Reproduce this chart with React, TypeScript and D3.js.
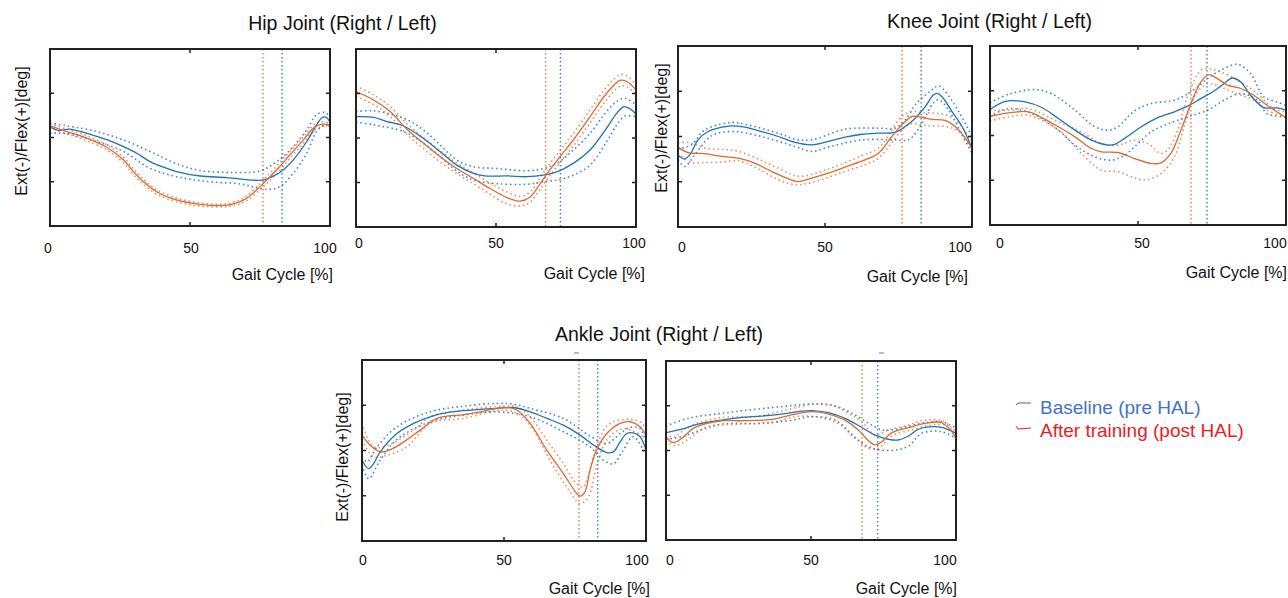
import React from "react";
import * as d3 from "d3";

type Pt = [number, number];

const gaitTicks = [0, 50, 100];
const angleTicks = [-20, 0, 20];
const angleDomain: [number, number] = [-40, 40];
const titles = ["Hip Joint (Right / Left)", "Knee Joint (Right / Left)", "Ankle Joint (Right / Left)"];
const legendLabels = ["Baseline (pre HAL)", "After training (post HAL)"];
const xLabel = "Gait Cycle [%]";
const yLabel = "Ext(-)/Flex(+)[deg]";

// ---------- Hip Right ----------
const hipRPre: Pt[] = [[0,4.7],[3,3.2],[7,3.8],[12,2.3],[16.7,0.5],[21.4,-1.5],[26.2,-4.1],[31,-7.1],[35.7,-10.9],[40.5,-13.4],[45.2,-15.4],[53.6,-17.4],[63.1,-18.1],[72.6,-19.3],[76.2,-19.2],[78.6,-18.1],[82.1,-15.8],[86.9,-10.1],[91.7,-1.8],[95.2,5.7],[97,8.8],[98.6,9.2],[100,6.8]];
const hipRPreHi: Pt[] = [[0,6.5],[6,5.3],[16.7,2.7],[26.2,-1.1],[35.7,-6.3],[45.2,-11.9],[53.6,-14.9],[65.5,-15.8],[75,-15.1],[81,-10.9],[86.9,-4.1],[91.7,3.5],[95.2,10.3],[98.2,11.3],[100,9.2]];
const hipRPreLo: Pt[] = [[0,2.0],[6,1.7],[16.7,-1.8],[26.2,-6.3],[35.7,-13.9],[45.2,-17.7],[56,-19.9],[67.9,-21.0],[77.4,-23.4],[82.1,-22.2],[86.9,-16.1],[91.7,-7.1],[95.2,2.7],[98.2,5.7],[100,5.0]];
const hipRPost: Pt[] = [[0,5.3],[6,2.7],[13.1,-0.3],[20.2,-4.4],[26.2,-10.1],[29.8,-15.4],[33.3,-19.9],[38.1,-24.5],[45.2,-28.2],[53.6,-30.2],[60.7,-30.8],[65.5,-30.0],[70.2,-27.5],[75,-22.2],[77.4,-19.2],[81,-14.6],[85.7,-7.8],[90.5,-1.1],[94,4.2],[97,6.0],[100,5.7]];
const hipRPostHi: Pt[] = [[0,6.0],[6,3.8],[13.1,0.8],[20.2,-3.3],[26.2,-8.8],[29.8,-14.2],[33.3,-18.8],[38.1,-23.6],[45.2,-27.4],[53.6,-29.5],[60.7,-30.2],[65.5,-29.2],[70.2,-26.4],[75,-20.8],[77.4,-17.6],[81,-12.8],[85.7,-6.2],[90.5,0.4],[94,5.5],[97,7.1],[100,6.4]];
const hipRPostLo: Pt[] = [[0,4.4],[6,1.6],[13.1,-1.5],[20.2,-5.6],[26.2,-11.4],[29.8,-16.7],[33.3,-21.1],[38.1,-25.5],[45.2,-29.0],[53.6,-31.0],[60.7,-31.4],[65.5,-30.8],[70.2,-28.6],[75,-23.6],[77.4,-20.8],[81,-16.4],[85.7,-9.4],[90.5,-2.6],[94,2.9],[97,5.0],[100,5.1]];

// ---------- Hip Left ----------
const hipLPre: Pt[] = [[0,9.6],[6.3,9.3],[11.1,7.4],[17,5.4],[24.1,-0.2],[30.1,-6.2],[36,-12.2],[42,-15.9],[46.7,-17.1],[53.9,-17.0],[61,-17.4],[66.9,-16.7],[71.7,-15.2],[77.6,-11.4],[83.6,-5.4],[89.5,4.4],[93.1,11.1],[95.7,14.1],[97.9,13.1],[100,10.8]];
const hipLPreHi: Pt[] = [[0,11.9],[6.3,12.2],[17,8.9],[24.1,3.6],[30.1,-3.2],[36,-9.9],[42,-12.9],[50.3,-13.7],[61,-14.7],[66.9,-13.7],[71.7,-11.4],[77.6,-5.4],[83.6,2.1],[89.5,11.9],[93.1,16.4],[96.1,17.9],[100,14.9]];
const hipLPreLo: Pt[] = [[0,7.1],[6.3,5.9],[17,2.9],[24.1,-2.4],[30.1,-8.4],[36,-14.9],[42,-18.9],[50.3,-20.5],[61,-20.8],[66.9,-19.7],[72.9,-18.7],[77.6,-16.7],[83.6,-12.2],[89.5,-1.7],[93.1,5.9],[96.1,9.9],[100,9.6]];
const hipLPost: Pt[] = [[0,20.9],[6.3,17.1],[12.2,11.9],[18.2,3.9],[24.1,-2.4],[30.1,-8.4],[36,-13.7],[42,-18.2],[47.9,-22.7],[53.9,-26.8],[58.6,-28.4],[62.2,-26.5],[65.8,-20.5],[68.7,-15.2],[72.9,-8.4],[77.6,-0.9],[83.6,9.6],[89.5,20.1],[94.3,25.9],[96.7,25.4],[100,21.7]];
const hipLPostHi: Pt[] = [[0,23.2],[6.3,19.4],[12.2,14.2],[18.2,6.4],[24.1,0.2],[30.1,-5.8],[36,-11.2],[42,-15.8],[47.9,-20.3],[53.9,-24.2],[58.6,-26.2],[62.2,-24.2],[65.8,-17.8],[68.7,-12.4],[72.9,-5.6],[77.6,2.0],[83.6,12.6],[89.5,23.0],[94.3,28.4],[96.7,28.0],[100,24.0]];
const hipLPostLo: Pt[] = [[0,18.6],[6.3,15.0],[12.2,9.6],[18.2,1.6],[24.1,-4.8],[30.1,-10.8],[36,-16.0],[42,-20.6],[47.9,-25.2],[53.9,-29.6],[58.6,-30.5],[62.2,-28.8],[65.8,-23.0],[68.7,-17.8],[72.9,-11.0],[77.6,-3.6],[83.6,6.8],[89.5,17.2],[94.3,23.2],[96.7,23.0],[100,19.6]];

// ---------- Knee Right ----------
const kneeRPre: Pt[] = [[0,-8.1],[2,-9.9],[4,-8.1],[6.8,-1.5],[10.2,2.2],[13.6,3.7],[18.2,4.7],[22.7,4.1],[28.4,2.2],[34.1,0],[39.8,-2.6],[45.5,-3.7],[51.1,-2.2],[56.8,-0.3],[62.5,1.0],[68.2,1.5],[73.9,1.8],[77.3,4.4],[80.7,8.1],[84.1,13.2],[86.9,18.4],[88.1,19.1],[89.8,17.6],[93.2,11.0],[96.6,4.4],[100,-5.1]];
const kneeRPreHi: Pt[] = [[0,-5.6],[4.5,-3.7],[9.1,2.9],[18.2,6.2],[22.7,5.4],[34.1,1.5],[39.8,-1.2],[45.5,-1.5],[56.8,3.2],[68.2,3.7],[73.9,3.7],[77.3,7.4],[80.7,14.0],[83.5,17.6],[86.4,20.6],[88.6,22.4],[90.9,19.9],[95.5,11.0],[100,0]];
const kneeRPreLo: Pt[] = [[0,-10.3],[2.3,-13.2],[5.7,-8.1],[11.4,0.3],[18.2,2.2],[28.4,0],[39.8,-4.4],[45.5,-6.6],[51.1,-4.7],[62.5,-1.5],[73.9,-1.5],[78.4,-1.5],[83,5.9],[86.4,14.0],[88.6,16.2],[92,11.8],[96.6,0.7],[100,-7.4]];
const kneeRPost: Pt[] = [[0,-4.7],[3.4,-7.1],[9.1,-7.6],[14.8,-8.8],[20.5,-9.6],[26.1,-11.8],[31.8,-15.4],[36.4,-18.1],[40.9,-19.9],[45.5,-18.4],[51.1,-16.2],[56.8,-13.5],[63.6,-10.3],[68.2,-7.4],[72.7,0],[76.1,5.1],[79.5,8.8],[83,8.5],[86.4,7.6],[90.9,7.1],[94.3,4.4],[97.7,-0.7],[100,-5.1]];
const kneeRPostHi: Pt[] = [[0,-2.9],[3.4,-2.6],[9.1,-5.1],[20.5,-6.6],[34.1,-14.0],[40.9,-17.6],[51.1,-14.4],[62.5,-8.5],[68.2,-5.1],[72.7,2.9],[76.1,8.8],[79.5,11.0],[83,10.6],[90.9,9.6],[95.5,5.9],[100,-2.2]];
const kneeRPostLo: Pt[] = [[0,-7.4],[4.5,-11.5],[9.1,-11.5],[14.8,-11.3],[20.5,-10.7],[26.1,-13.5],[34.1,-19.1],[39.8,-21.3],[45.5,-20.3],[56.8,-15.4],[63.6,-12.5],[68.2,-9.6],[72.7,-2.9],[76.1,2.9],[79.5,5.6],[85.2,4.7],[90.9,4.4],[95.5,2.2],[100,-5.9]];

// ---------- Knee Left ----------
const kneeLPre: Pt[] = [[0,11.6],[5.2,15.3],[11.9,15.0],[17.5,12.5],[23.1,7.6],[28.7,2.4],[34.3,-2.1],[39.9,-4.3],[42.1,-4.0],[45.5,-1.3],[51.1,3.9],[56.7,8.0],[62.3,10.6],[66.7,13.1],[71.2,16.5],[75.7,19.9],[79.1,23.2],[81.9,25.7],[84.7,23.9],[88,18.0],[92.5,12.5],[97,12.3],[100,11.3]];
const kneeLPreHi: Pt[] = [[0,14.6],[6.3,18.4],[15.2,20.5],[20.8,18.7],[28.7,11.3],[35.4,3.9],[39.9,2.4],[43.2,3.9],[48.8,11.0],[54.4,14.3],[62.3,15.8],[67.9,19.5],[73.5,25.4],[77.9,29.1],[83.5,31.8],[88,27.7],[92.5,17.3],[97,15.0],[100,13.5]];
const kneeLPreLo: Pt[] = [[0,8.6],[6.3,12.0],[14.1,9.8],[23.1,2.4],[28.7,-4.3],[35.4,-9.5],[41,-11.0],[45.5,-8.8],[48.8,-5.1],[54.4,1.6],[60,5.1],[66.7,8.3],[73.5,11.3],[79.1,15.8],[84.7,18.7],[90.3,15.8],[93.6,9.8],[100,8.3]];
const kneeLPost: Pt[] = [[0,8.6],[6.3,10.1],[13,10.6],[17.5,8.0],[23.1,3.9],[28.7,-0.6],[34.3,-5.8],[37.6,-7.3],[43.2,-7.6],[48.8,-10.3],[54.4,-12.5],[57.8,-12.2],[61.1,-8.0],[64.5,2.4],[67.9,14.3],[71.2,23.9],[74,27.2],[76.8,25.4],[80.2,22.5],[84.7,21.0],[89.1,18.0],[93.6,13.5],[100,7.9]];
const kneeLPostHi: Pt[] = [[0,11.3],[6.3,11.3],[13,12.0],[23.1,6.1],[30.9,1.6],[37.6,-3.6],[43.2,-4.3],[48.8,-2.1],[53.3,-3.6],[57.8,-8.0],[60,-6.5],[63.4,2.4],[66.7,17.3],[71.2,29.1],[73.5,29.9],[77.9,28.4],[84.7,23.9],[90.3,18.7],[95.9,12.0],[100,10.6]];
const kneeLPostLo: Pt[] = [[0,6.5],[6.3,8.3],[13,9.1],[23.1,2.4],[32,-9.5],[37.6,-15.5],[43.2,-16.2],[47.7,-18.4],[52.2,-19.9],[57.8,-17.0],[62.3,-9.5],[65.6,3.9],[69,17.3],[73.5,23.2],[77.9,21.7],[83.5,18.7],[89.1,15.8],[93.6,11.3],[100,8.0]];

// ---------- Ankle Right ----------
const ankRPre: Pt[] = [[0,-4.3],[2.3,-8.0],[4.1,-5.8],[6.4,-0.6],[12.3,7.5],[18.2,12.0],[24,14.9],[29.9,16.7],[35.8,17.6],[41.6,18.2],[47.5,18.6],[53.3,19.0],[59.2,17.1],[65.1,14.2],[70.9,11.2],[76.8,6.8],[81.5,2.4],[86.2,-0.9],[88.5,-0.6],[90.9,3.8],[93.2,7.5],[95.5,7.8],[97.9,6.1],[100,0.2]];
const ankRPreHi: Pt[] = [[0,-2.8],[1.8,-5.0],[5.3,1.6],[12.3,10.5],[24,17.1],[35.8,19.6],[47.5,20.8],[53.3,20.5],[59.2,18.6],[70.9,14.2],[80.3,6.4],[86.2,3.1],[90.9,7.5],[94.4,10.2],[97.9,9.7],[100,3.1]];
const ankRPreLo: Pt[] = [[0,-6.5],[2.3,-12.4],[6.4,-4.3],[12.3,4.9],[24,12.7],[35.8,15.7],[47.5,17.1],[59.2,14.9],[70.9,8.3],[80.3,1.6],[85,-4.3],[88.5,-5.8],[92,0.2],[95.5,6.1],[100,-2.1]];
const ankRPost: Pt[] = [[0,6.8],[2.3,3.1],[6.4,-0.6],[10,0.4],[14.7,3.8],[20.5,9.0],[26.4,14.2],[35.8,15.9],[41.6,17.1],[49.8,19.0],[54.5,17.9],[59.2,12.0],[65.1,0.2],[70.9,-10.2],[75.6,-19.0],[76.8,-20.2],[78.5,-18.3],[80.3,-8.7],[82.6,0.2],[86.2,7.5],[90.9,12.0],[94.4,12.7],[97.9,10.5],[100,6.8]];
const ankRPostHi: Pt[] = [[0,12.0],[4.1,1.6],[9.4,2.4],[18.2,9.0],[24,14.9],[35.8,17.9],[49.8,19.6],[54.5,19.3],[59.2,14.9],[65.1,4.6],[70.9,-5.8],[75.6,-14.6],[78,-16.1],[81.5,-2.8],[86.2,10.8],[92,13.7],[97.9,12.7],[100,9.7]];
const ankRPostLo: Pt[] = [[0,4.6],[4.1,-2.8],[8.8,-2.1],[15.8,1.6],[24,12.0],[35.8,14.2],[49.8,17.9],[55.7,15.7],[60.4,9.0],[66.2,-4.3],[72.1,-16.1],[76.8,-23.5],[79.7,-20.5],[82.6,-7.2],[86.2,4.6],[92,9.7],[100,5.3]];

// ---------- Ankle Left ----------
const ankLPre: Pt[] = [[0,8.0],[5.4,9.5],[11.1,11.8],[19.2,13.6],[26.1,14.8],[33,15.4],[39.9,16.3],[45.6,17.4],[50.2,17.8],[56,16.9],[61.7,14.4],[67.5,10.3],[72.1,6.9],[76.7,5.0],[80.1,4.7],[83.6,6.5],[87,9.5],[90.5,10.6],[95.1,10.3],[100,7.7]];
const ankLPreHi: Pt[] = [[0,10.9],[7.7,14.4],[19.2,16.6],[30.7,18.4],[42.2,19.9],[50.2,20.8],[58.3,19.9],[65.2,15.9],[70.9,11.4],[74.4,9.2],[77.8,9.2],[83.6,10.9],[89.3,12.4],[95.1,12.9],[100,9.9]];
const ankLPreLo: Pt[] = [[0,5.0],[5.4,6.2],[11.1,8.7],[19.2,11.8],[30.7,12.1],[42.2,13.3],[50.2,15.1],[58.3,13.6],[65.2,5.9],[69.8,1.7],[74.4,0.2],[79,0.2],[83.6,2.0],[88.2,7.7],[95.1,8.4],[100,5.4]];
const ankLPost: Pt[] = [[0,6.2],[2.5,3.5],[5.4,5.4],[10,10.3],[19.2,13.3],[26.1,13.3],[36.4,13.9],[44.5,16.3],[50.2,17.4],[56,16.3],[61.7,13.6],[66.3,9.2],[69.8,4.4],[72.1,2.5],[74.4,3.9],[77.8,7.9],[83.6,10.2],[89.3,12.1],[95.1,12.4],[100,5.9]];
const ankLPostHi: Pt[] = [[0,7.7],[2.5,5.9],[7.7,10.6],[19.2,14.7],[30.7,15.1],[42.2,18.4],[51.4,20.8],[57.1,20.3],[62.9,16.6],[67.5,12.9],[72.1,6.9],[76.7,9.2],[83.6,11.4],[88.2,13.3],[95.1,13.3],[100,8.4]];
const ankLPostLo: Pt[] = [[0,4.4],[3.1,2.2],[7.7,5.0],[13.4,10.3],[24.9,11.8],[36.4,12.4],[44.5,15.1],[51.4,15.1],[59.4,12.1],[65.2,5.4],[69.8,1.0],[73.2,1.0],[77.8,6.5],[84.7,9.2],[91.6,11.4],[97.4,10.9],[100,4.9]];

// toe-off markers [pre, post] in % gait cycle
const toeOffHipR = [82.9, 76.1];
const toeOffHipL = [73.0, 67.7];
const toeOffKneeR = [82.7, 76.2];
const toeOffKneeL = [73.3, 67.9];
const toeOffAnkR = [83.0, 76.4];
const toeOffAnkL = [73.0, 67.6];

const BLUE = "#1f72b8";
const ORANGE = "#dd6a30";
const FONT = "'Liberation Sans', Arial, Helvetica, sans-serif";

type PanelCfg = {
  x0: number; x1: number; y0: number; y1: number;
  pre: Pt[]; preHi: Pt[]; preLo: Pt[];
  post: Pt[]; postHi: Pt[]; postLo: Pt[];
  toeOff: number[];
  yLab?: [number, number];
  xLabRight: number; xLabY: number; tickY: number; nudge: [number, number, number];
};

const panels: PanelCfg[] = [
  { x0: 50, x1: 330, y0: 49, y1: 226, pre: hipRPre, preHi: hipRPreHi, preLo: hipRPreLo, post: hipRPost, postHi: hipRPostHi, postLo: hipRPostLo, toeOff: toeOffHipR, yLab: [21, 131], xLabRight: 333, xLabY: 280, tickY: 253, nudge: [-2, 1, -5] },
  { x0: 356, x1: 636, y0: 49, y1: 227, pre: hipLPre, preHi: hipLPreHi, preLo: hipLPreLo, post: hipLPost, postHi: hipLPostHi, postLo: hipLPostLo, toeOff: toeOffHipL, xLabRight: 645, xLabY: 279, tickY: 248, nudge: [3, 0, -2] },
  { x0: 678, x1: 972, y0: 46, y1: 227, pre: kneeRPre, preHi: kneeRPreHi, preLo: kneeRPreLo, post: kneeRPost, postHi: kneeRPostHi, postLo: kneeRPostLo, toeOff: toeOffKneeR, yLab: [661, 128], xLabRight: 968, xLabY: 282, tickY: 252, nudge: [4, 0, -12] },
  { x0: 990, x1: 1286, y0: 46, y1: 225, pre: kneeLPre, preHi: kneeLPreHi, preLo: kneeLPreLo, post: kneeLPost, postHi: kneeLPostHi, postLo: kneeLPostLo, toeOff: toeOffKneeL, xLabRight: 1287, xLabY: 278, tickY: 248, nudge: [10, 4, -11] },
  { x0: 362, x1: 646, y0: 360, y1: 541, pre: ankRPre, preHi: ankRPreHi, preLo: ankRPreLo, post: ankRPost, postHi: ankRPostHi, postLo: ankRPostLo, toeOff: toeOffAnkR, yLab: [342, 457], xLabRight: 650, xLabY: 594, tickY: 565, nudge: [1, 0, -9] },
  { x0: 666, x1: 956, y0: 361, y1: 540, pre: ankLPre, preHi: ankLPreHi, preLo: ankLPreLo, post: ankLPost, postHi: ankLPostHi, postLo: ankLPostLo, toeOff: toeOffAnkL, xLabRight: 957, xLabY: 594, tickY: 565, nudge: [4, 0, -11] },
];

function Panel({ p }: { p: PanelCfg }) {
  const x = d3.scaleLinear().domain([0, 100]).range([p.x0, p.x1]);
  const y = d3.scaleLinear().domain(angleDomain).range([p.y1, p.y0]);
  const line = d3.line<Pt>().x((d) => x(d[0])).y((d) => y(d[1])).curve(d3.curveCatmullRom.alpha(0.5));
  const clipId = `clip-${p.x0}-${p.y0}`;
  const tickLen = 4;
  return (
    <g>
      <defs>
        <clipPath id={clipId}>
          <rect x={p.x0} y={p.y0} width={p.x1 - p.x0} height={p.y1 - p.y0} />
        </clipPath>
      </defs>
      <g clipPath={`url(#${clipId})`}>
        {p.toeOff.map((v, i) => (
          <line key={i} x1={x(v)} x2={x(v)} y1={p.y0} y2={p.y1} stroke={i === 0 ? BLUE : ORANGE} strokeWidth={1.4} strokeDasharray="1.4 2.6" opacity={0.85} />
        ))}
        {[p.preHi, p.preLo].map((d, i) => (
          <path key={"b" + i} d={line(d) || ""} fill="none" stroke={BLUE} strokeWidth={1.6} strokeDasharray="1.5 3" strokeLinecap="butt" opacity={0.85} />
        ))}
        {[p.postHi, p.postLo].map((d, i) => (
          <path key={"o" + i} d={line(d) || ""} fill="none" stroke={ORANGE} strokeWidth={1.6} strokeDasharray="1.5 3" opacity={0.75} />
        ))}
        <path d={line(p.pre) || ""} fill="none" stroke={BLUE} strokeWidth={1.3} />
        <path d={line(p.post) || ""} fill="none" stroke={ORANGE} strokeWidth={1.3} />
      </g>
      {gaitTicks.map((t) => (
        <g key={"xt" + t}>
          <line x1={x(t)} x2={x(t)} y1={p.y1} y2={p.y1 - tickLen} stroke="#222" strokeWidth={1.5} />
          <line x1={x(t)} x2={x(t)} y1={p.y0} y2={p.y0 + tickLen} stroke="#222" strokeWidth={1.5} />
        </g>
      ))}
      {angleTicks.map((t) => (
        <g key={"yt" + t}>
          <line x1={p.x0} x2={p.x0 + tickLen} y1={y(t)} y2={y(t)} stroke="#222" strokeWidth={1.5} />
          <line x1={p.x1} x2={p.x1 - tickLen} y1={y(t)} y2={y(t)} stroke="#222" strokeWidth={1.5} />
        </g>
      ))}
      <rect x={p.x0} y={p.y0} width={p.x1 - p.x0} height={p.y1 - p.y0} fill="none" stroke="#222" strokeWidth={2} />
      {gaitTicks.map((t, i) => (
        <text key={"xl" + t} x={x(t) + p.nudge[i]} y={p.tickY} textAnchor="middle" fontSize={14} fill="#111" fontFamily={FONT}>
          {t}
        </text>
      ))}
      <text x={p.xLabRight} y={p.xLabY} textAnchor="end" fontSize={16} fill="#111" fontFamily={FONT}>
        {xLabel}
      </text>
      {p.yLab && (
        <text transform={`translate(${p.yLab[0]},${p.yLab[1]}) rotate(-90)`} textAnchor="middle" dominantBaseline="central" fontSize={16} fill="#111" fontFamily={FONT}>
          {yLabel}
        </text>
      )}
    </g>
  );
}

export default function App() {
  return (
    <svg width={1288} height={598} style={{ position: "absolute", left: 0, top: 0, background: "#fff" }} xmlns="http://www.w3.org/2000/svg">
      <rect x={0} y={0} width={1288} height={598} fill="#fff" />
      <text x={342.5} y={29.5} textAnchor="middle" fontSize={19.5} fill="#111" fontFamily={FONT}>{titles[0]}</text>
      <text x={989.5} y={28} textAnchor="middle" fontSize={19.5} fill="#111" fontFamily={FONT}>{titles[1]}</text>
      <text x={659} y={341} textAnchor="middle" fontSize={19.5} fill="#111" fontFamily={FONT}>{titles[2]}</text>
      <line x1={574} x2={579} y1={353} y2={353} stroke="#777" strokeWidth={1} />
      <line x1={879} x2={884} y1={353} y2={353} stroke="#777" strokeWidth={1} />
      {panels.map((p, i) => (
        <Panel key={i} p={p} />
      ))}
      <path d="M1016,405 L1018,403 L1031,403" fill="none" stroke={BLUE} strokeWidth={1} />
      <path d="M1016,426 L1018,429 L1031,428" fill="none" stroke="#e8202a" strokeWidth={1} />
      <text x={1040} y={414} fontSize={19} fill="#4472c4" fontFamily={FONT}>{legendLabels[0]}</text>
      <text x={1040} y={437} fontSize={19} fill="#ec1c24" fontFamily={FONT}>{legendLabels[1]}</text>
    </svg>
  );
}
